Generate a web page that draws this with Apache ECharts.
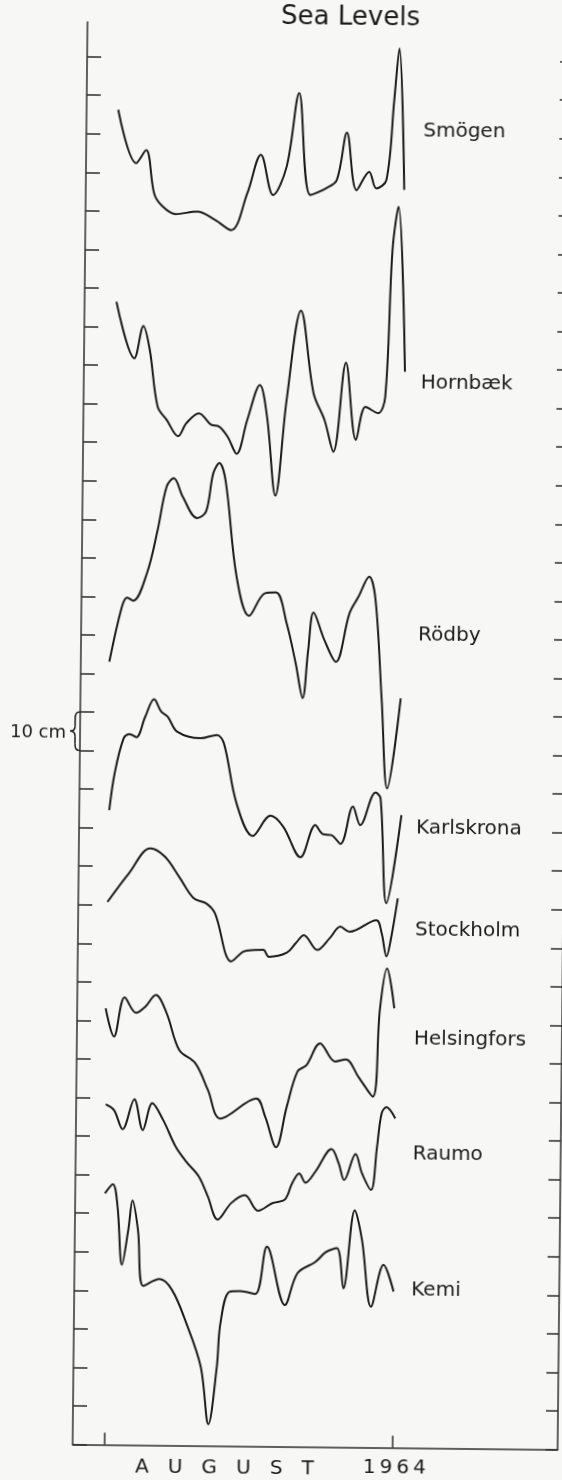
<!DOCTYPE html>
<html>
<head>
<meta charset="utf-8">
<title>Sea Levels</title>
<script src="https://cdn.jsdelivr.net/npm/echarts@6.0.0/dist/echarts.min.js"></script>
<style>
  html, body { margin: 0; padding: 0; width: 562px; height: 1480px; overflow: hidden; background: #f7f7f5; }
  /* the drawing sits slightly skewed on the sheet */
  #chart { position: absolute; left: 0; top: 0; width: 600px; height: 1480px;
           transform: rotate(0.6deg); transform-origin: 281px 740px; }
</style>
</head>
<body>
<div id="chart"></div>
<script>
// Station names, top to bottom
const stationNames = ['Smögen', 'Hornbæk', 'Rödby', 'Karlskrona', 'Stockholm', 'Helsingfors', 'Raumo', 'Kemi'];

// [day since 1 Aug 1964 00h, sea level in cm relative to the station's baseline]
const smogen = [[0.03,26.3],[2.02,12.5],[3.08,15.9],[3.98,4.7],[4.76,1.7],[6.31,-0.6],[8.62,0.1],[10.55,-2.0],[12.31,-4.6],[14.0,5.0],[15.42,15.0],[16.77,4.6],[18.2,12.0],[19.47,31.1],[20.78,4.7],[22.47,6.5],[23.61,8.7],[24.65,21.0],[25.74,6.1],[27.08,10.9],[27.86,6.6],[28.94,8.8],[29.7,29.6],[30.2,43.0],[30.87,6.3]];
const hornbaek = [[0.05,26.5],[2.04,11.9],[2.98,20.3],[3.69,14.1],[4.6,-0.6],[5.59,-4.0],[6.83,-8.2],[7.71,-4.8],[9.04,-2.2],[10.41,-5.2],[11.17,-5.5],[12.15,-8.2],[13.14,-12.6],[14.25,-3.8],[15.57,5.3],[16.37,-2.9],[17.35,-23.4],[18.46,1.5],[19.91,24.7],[21.35,3.3],[22.55,-3.6],[23.54,-11.8],[24.8,11.3],[25.96,-8.7],[26.96,-0.1],[28.31,-1.7],[29.06,2.6],[29.68,40.7],[30.28,51.9],[31.15,9.1]];
const rodby = [[-0.31,-6.9],[0.98,7.4],[1.54,9.8],[2.2,9.0],[3.64,16.2],[4.74,27.4],[5.66,38.7],[6.42,40.9],[7.4,36.1],[8.97,30.6],[9.92,32.3],[10.66,42.3],[11.3,44.9],[12.01,40.1],[13.28,15.5],[14.67,5.4],[16.37,11.3],[17.54,11.5],[18.72,3.5],[19.73,-6.8],[20.51,-15.8],[21.06,-3.3],[21.6,6.4],[22.79,-0.7],[24.04,-6.3],[25.46,6.3],[26.4,10.6],[27.54,15.9],[28.25,9.8],[29.02,-16.1],[29.7,-39.0],[31.06,-15.6]];
const karlskrona = [[-0.15,-5.4],[0.39,4.2],[1.32,13.3],[1.96,14.4],[2.67,13.6],[3.61,18.9],[4.55,23.5],[5.33,20.3],[6.03,19.0],[7.09,15.1],[9.6,13.5],[11.33,14.4],[12.11,12.2],[13.53,-3.3],[15.3,-11.7],[17.2,-6.4],[18.57,-9.2],[20.45,-17.1],[22.03,-8.7],[22.82,-11.0],[23.77,-11.3],[24.75,-13.5],[26.05,-3.8],[26.85,-8.6],[28.47,-0.1],[29.01,-1.6],[29.75,-28.8],[31.27,-5.9]];
const stockholm = [[-0.24,10.8],[2.04,18.3],[4.32,24.8],[5.88,22.7],[7.44,17.5],[9.01,12.0],[10.37,10.7],[11.34,8.1],[13.13,-4.3],[14.46,-1.7],[15.62,-1.3],[16.58,-1.2],[17.17,-3.0],[19.09,-1.9],[20.05,0.6],[20.92,2.7],[22.37,-1.1],[23.7,2.0],[24.84,5.0],[25.82,3.7],[28.69,6.8],[29.28,3.4],[29.82,-2.6],[30.26,1.7],[30.97,12.5]];
const helsingfors = [[-0.31,13.2],[0.61,5.9],[1.72,16.1],[2.97,12.1],[3.94,13.7],[5.07,16.8],[6.25,12.1],[7.64,2.6],[9.39,-0.8],[10.77,-7.7],[12.15,-15.1],[15.98,-9.8],[16.96,-14.5],[18.16,-22.4],[19.26,-11.9],[20.38,-2.7],[21.34,-1.0],[22.78,4.7],[24.42,0.0],[25.57,0.6],[26.94,-3.9],[28.51,-9.0],[29.17,13.5],[29.9,24.3],[30.72,14.0]];
const raumo = [[-0.2,18.3],[0.7,16.8],[1.64,11.9],[2.88,19.7],[3.81,11.7],[4.81,18.7],[5.99,14.4],[7.37,7.5],[8.54,3.6],[9.9,-0.2],[10.89,-5.4],[11.96,-11.3],[13.4,-7.0],[14.86,-4.9],[16.3,-8.9],[17.83,-6.9],[19.17,-5.9],[19.93,-1.7],[20.69,0.9],[21.36,-1.5],[22.42,1.4],[24.13,7.3],[24.92,3.6],[25.52,-0.7],[26.72,6.1],[27.43,1.1],[28.42,-3.2],[29.02,8.0],[29.48,16.7],[29.98,18.3],[30.95,15.4]];
const kemi = [[-0.18,25.2],[0.66,27.6],[1.19,21.8],[1.72,6.7],[2.37,15.8],[2.8,23.4],[3.41,15.8],[4.06,1.3],[5.78,3.1],[7.14,0.3],[8.72,-8.3],[10.31,-19.5],[11.19,-34.4],[12.04,-19.5],[12.38,-8.2],[13.31,0.0],[14.46,0.2],[16.09,-0.5],[17.3,11.8],[19.29,-3.3],[20.61,5.0],[22.53,8.0],[23.67,10.6],[24.82,11.6],[25.56,1.2],[26.7,21.5],[27.51,13.8],[28.55,-3.5],[29.85,7.4],[30.96,0.5]];

const stationSeries = [smogen, hornbaek, rodby, karlskrona, stockholm, helsingfors, raumo, kemi];

// Layout: where each trace is stacked on the common 10 cm scale (cm above the frame bottom)
const stationBaseline = [320, 270, 210, 170, 130, 100, 70, 40];
// Layout: pixel row of each station name
const stationLabelY = [130, 382, 634, 827, 929, 1038, 1153, 1289];

// Axis ticks
const dayTicks = [0, 31];               // 1 Aug and 1 Sep
const levelTicks = [];
for (let v = 0; v <= 360; v += 10) levelTicks.push(v);
const scaleBar = [180, 190];            // the 10 cm bracket

const INK = '#1b1b1b';
const AXIS = '#2e2e2e';
const FONT = 'DejaVu Sans';

const chart = echarts.init(document.getElementById('chart'), null, { renderer: 'canvas' });

const frameAxis = (position, tickLen) => ({
  type: 'value', min: 0, max: 369, position,
  axisLine: { show: true, onZero: false, lineStyle: { color: AXIS, width: 1.5 } },
  axisTick: { show: true, inside: true, length: tickLen, customValues: levelTicks,
              lineStyle: { color: AXIS, width: 1.5 } },
  axisLabel: { show: false },
  splitLine: { show: false }
});

chart.setOption({
  backgroundColor: '#f7f7f5',
  animation: false,
  grid: { left: 80, right: 35, top: 24, bottom: 33.5 },
  xAxis: {
    type: 'value', min: -3.376, max: 48.774,
    axisLine: { show: true, onZero: false, lineStyle: { color: AXIS, width: 1.5 } },
    axisTick: { show: true, inside: true, length: 12, customValues: dayTicks,
                lineStyle: { color: AXIS, width: 1.5 } },
    axisLabel: { show: false },
    splitLine: { show: false }
  },
  yAxis: [frameAxis('left', 14), frameAxis('right', 12)],
  series: stationNames.map((name, i) => ({
    name, type: 'line', yAxisIndex: 0,
    data: stationSeries[i].map(([d, v]) => [d, v + stationBaseline[i]]),
    showSymbol: false, smooth: 0.35, silent: true,
    lineStyle: { color: INK, width: 2 }
  }))
});

// Annotations: title, station names, scale bracket, month label
const yTop = chart.convertToPixel({ yAxisIndex: 0 }, scaleBar[1]);
const yBot = chart.convertToPixel({ yAxisIndex: 0 }, scaleBar[0]);
const yMid = (yTop + yBot) / 2;
const bx = 80;
const braceStyle = { fill: null, stroke: INK, lineWidth: 1.5 };
const curve = (x1, y1, cx1, cy1, cx2, cy2, x2, y2) => ({
  type: 'bezierCurve', silent: true,
  shape: { x1, y1, cpx1: cx1, cpy1: cy1, cpx2: cx2, cpy2: cy2, x2, y2 }, style: braceStyle
});
const seg = (x1, y1, x2, y2) => ({ type: 'line', silent: true, shape: { x1, y1, x2, y2 }, style: braceStyle });
const brace = [
  curve(bx, yTop, bx - 4, yTop, bx - 5, yTop + 2, bx - 5, yTop + 7),
  seg(bx - 5, yTop + 7, bx - 5, yMid - 5),
  curve(bx - 5, yMid - 5, bx - 5, yMid - 2, bx - 7, yMid, bx - 10, yMid),
  curve(bx - 10, yMid, bx - 7, yMid, bx - 5, yMid + 2, bx - 5, yMid + 5),
  seg(bx - 5, yMid + 5, bx - 5, yBot - 7),
  curve(bx - 5, yBot - 7, bx - 5, yBot - 2, bx - 4, yBot, bx, yBot)
];

const textEl = (text, x, y, size, align) => ({
  type: 'text', x, y, silent: true,
  style: { text, fill: INK, font: `${size}px "${FONT}"`, align: align || 'left', verticalAlign: 'middle' }
});

chart.setOption({
  graphic: [
    textEl('Sea Levels', 343, 17, 26, 'center'),
    ...stationNames.map((n, i) => textEl(n, 417, stationLabelY[i], 20, 'left')),
    textEl('10 cm', 66, 735, 18, 'right'),
    ...brace,
    textEl('A   U   G   U   S   T', 232, 1469, 20, 'center'),
    textEl('1\u20099\u20096\u20094', 402, 1467, 20, 'center')
  ]
});
</script>
</body>
</html>
